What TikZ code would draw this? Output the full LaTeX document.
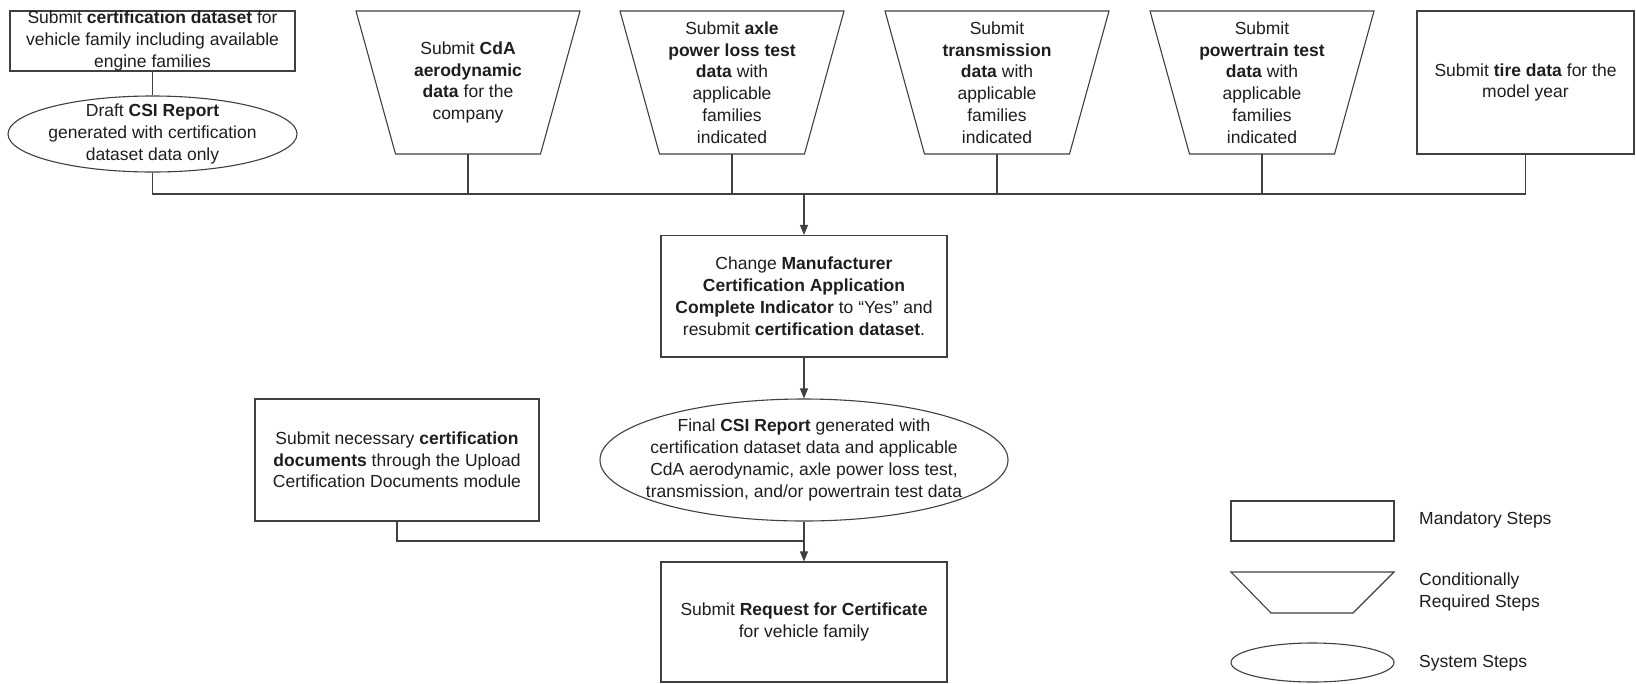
\documentclass[tikz,border=0pt]{standalone}
\usepackage{fontspec}
\setmainfont{Liberation Sans}
\usetikzlibrary{shapes.geometric,arrows.meta}
\definecolor{ln}{HTML}{404040}
\definecolor{tx}{HTML}{1E1E1E}
\newcommand\mytrap[3]{%
  \draw[shp] (#2-112,11) -- (#2+112,11) -- (#2+72.5,154) -- (#2-72.5,154) -- cycle;
  \node[lbl] (#1) at (#2,82.5) {#3};
  \coordinate (#1b) at (#2,154);}
\begin{document}
\begin{tikzpicture}[x=1pt,y=-1pt,
  every node/.style={text=tx, font=\fontsize{17.5}{21.7}\selectfont},
  rbox/.style={draw=ln, line width=1.1pt, rectangle, inner sep=0pt, align=center},
  ebox/.style={draw=ln, line width=1.1pt, ellipse, inner sep=0pt},
  lbl/.style={align=center, inner sep=0pt},
  shp/.style={draw=ln, line width=1.1pt, line join=miter},
  line/.style={draw=ln, line width=1.1pt},
  arr/.style={line, -{Triangle[length=10pt,width=8pt]}}]
\path[fill=white] (0,0) rectangle (1636,683);
\useasboundingbox (0,0) rectangle (1636,683);

% top row
\node[rbox, minimum width=285, minimum height=60] (b1) at (152.5,41)
  {Submit \textbf{certification dataset} for\\vehicle family including available\\engine families};
\node[ebox, minimum width=289, minimum height=76] (e1) at (152.5,134) {};
\node[lbl] (e1t) at (e1) {Draft \textbf{CSI Report}\\generated with certification\\dataset data only};

\mytrap{cda}{468}{Submit \textbf{CdA}\\\textbf{aerodynamic}\\\textbf{data} for the\\company}
\mytrap{axle}{732}{Submit \textbf{axle}\\\textbf{power loss test}\\\textbf{data} with\\applicable\\families\\indicated}
\mytrap{trans}{997}{Submit\\\textbf{transmission}\\\textbf{data} with\\applicable\\families\\indicated}
\mytrap{power}{1262}{Submit\\\textbf{powertrain test}\\\textbf{data} with\\applicable\\families\\indicated}

\node[rbox, minimum width=217, minimum height=143] (tire) at (1525.5,82.5)
  {Submit \textbf{tire data} for the\\model year};

% bus
\coordinate (bus) at (0,194);
\draw[line] (b1.south) -- (e1.north);
\draw[line] (e1.south) |- (bus -| tire.south) -- (tire.south);
\foreach \n in {cdab,axleb,transb,powerb} \draw[line] (\n) -- (\n |- bus);

% middle
\node[rbox, minimum width=286, minimum height=121.5] (mid) at (804,296.25)
  {Change \textbf{Manufacturer}\\\textbf{Certification Application}\\\textbf{Complete Indicator} to “Yes” and\\resubmit \textbf{certification dataset}.};
\draw[arr] (mid.north |- bus) -- (mid.north);

\node[ebox, minimum width=408, minimum height=122] (fe) at (804,460) {};
\node[lbl] (fet) at (fe) {Final \textbf{CSI Report} generated with\\certification dataset data and applicable\\CdA aerodynamic, axle power loss test,\\transmission, and/or powertrain test data};
\draw[arr] (mid.south) -- (fe.north);

\node[rbox, minimum width=284, minimum height=122] (lb) at (397,460)
  {Submit necessary \textbf{certification}\\\textbf{documents} through the Upload\\Certification Documents module};

\node[rbox, minimum width=286, minimum height=120] (bot) at (804,622)
  {Submit \textbf{Request for Certificate}\\for vehicle family};

\coordinate (j) at (0,541);
\draw[line] (lb.south) |- (fe.south |- j);
\draw[arr] (fe.south) -- (bot.north);

% legend
\node[rbox, minimum width=163, minimum height=40] (lg1) at (1312.5,521) {};
\node[lbl, anchor=west] (lg1t) at (1419,520) {Mandatory Steps};
\draw[shp] (1231,572) -- (1394,572) -- (1353,613) -- (1271,613) -- cycle;
\node[lbl, anchor=west, align=left] (lg2t) at (1419,592) {Conditionally\\Required Steps};
\node[ebox, minimum width=163, minimum height=39] (lg3) at (1312.5,662.5) {};
\node[lbl, anchor=west] (lg3t) at (1419,663) {System Steps};
\end{tikzpicture}
\end{document}
